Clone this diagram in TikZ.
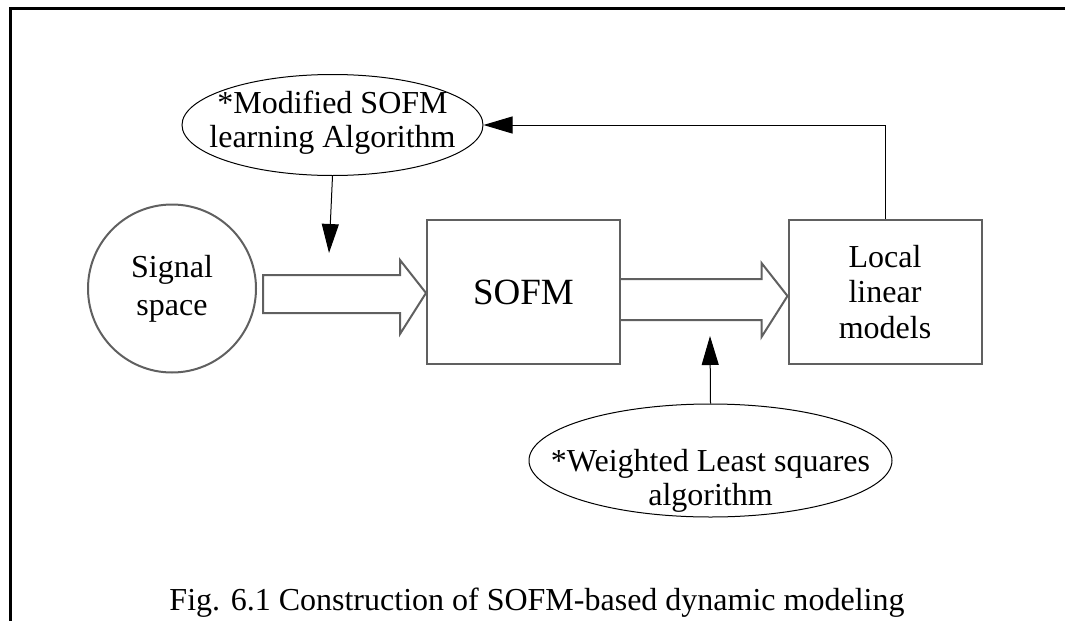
\documentclass[tikz,border=0pt]{standalone}
\usepackage{fontspec}
\setmainfont{Liberation Serif}
\usetikzlibrary{arrows.meta,calc,shapes.geometric}
\definecolor{boxgray}{RGB}{96,96,96}
\begin{document}
\begin{tikzpicture}[x=1pt,y=-1pt,
  blockbox/.style={draw=boxgray,line width=2pt,rectangle,minimum width=193pt,minimum height=144pt,inner sep=0pt,align=center},
  sigcircle/.style={draw=boxgray,line width=2pt,circle,minimum size=168pt,inner sep=0pt,align=center,font=\fontsize{32}{38}\selectfont},
  algoellipse/.style={draw=black,line width=1pt,ellipse,inner sep=0pt},
  algotext/.style={inner sep=0pt,align=center,font=\fontsize{32}{34}\selectfont},
  pointer/.style={draw=black,line width=1pt,-{Triangle[length=29pt,width=17pt]}},
  hollow/.style={draw=boxgray,line width=2pt,line join=miter},
  captiontext/.style={inner sep=0pt,font=\fontsize{32}{36}\selectfont}
]
\useasboundingbox (0,0) rectangle (1065,621);

% outer frame (top and left sides)
\draw[line width=3pt] (1065,8.5) -- (10.5,8.5) -- (10.5,621);

% main blocks
\node[sigcircle] (sig) at (172,288.5) {Signal\\space};
\node[blockbox,font=\fontsize{37}{40}\selectfont] (sofm) at (523.5,292) {SOFM};
\node[blockbox,font=\fontsize{32}{35.5}\selectfont] (loc) at (885,292) {Local\\linear\\models};

% training algorithms
\node[algoellipse,minimum width=301pt,minimum height=101pt] (e1) at (332.5,125) {};
\node[algotext] (e1txt) at ($(e1.center)+(0,-2)$) {*Modified SOFM\\learning Algorithm};
\node[algoellipse,minimum width=363pt,minimum height=113pt] (e2) at (710.5,460.5) {};
\node[algotext] (e2txt) at ($(e2.center)+(0,20)$) {*Weighted Least squares\\algorithm};

% wide data-flow arrows
\draw[hollow] ($(sig.east)+(6,-13.5)$) -- ($(sofm.west)+(-26,-17)$) -- ($(sofm.west)+(-26,-32)$)
  -- ($(sofm.west)+(0,1)$) -- ($(sofm.west)+(-26,42)$) -- ($(sofm.west)+(-26,21)$)
  -- ($(sig.east)+(6,24.5)$) -- cycle;
\draw[hollow] ($(sofm.east)+(0,-13)$) -- ($(loc.west)+(-26,-13)$) -- ($(loc.west)+(-26,-29)$)
  -- ($(loc.west)+(0,4)$) -- ($(loc.west)+(-26,45)$) -- ($(loc.west)+(-26,28)$)
  -- ($(sofm.east)+(0,28)$);

% algorithm pointers and feedback
\coordinate (d1) at (329,253);
\coordinate (u1) at (710,336);
\draw[pointer] (e1.south) -- (d1);
\draw[pointer] (e2.north) -- (u1);
\draw[pointer] (loc.north) |- (e1.east);

% caption
\node[captiontext,anchor=base] (cap) at (537,610) {Fig. 6.1 Construction of SOFM-based dynamic modeling};
\end{tikzpicture}
\end{document}
